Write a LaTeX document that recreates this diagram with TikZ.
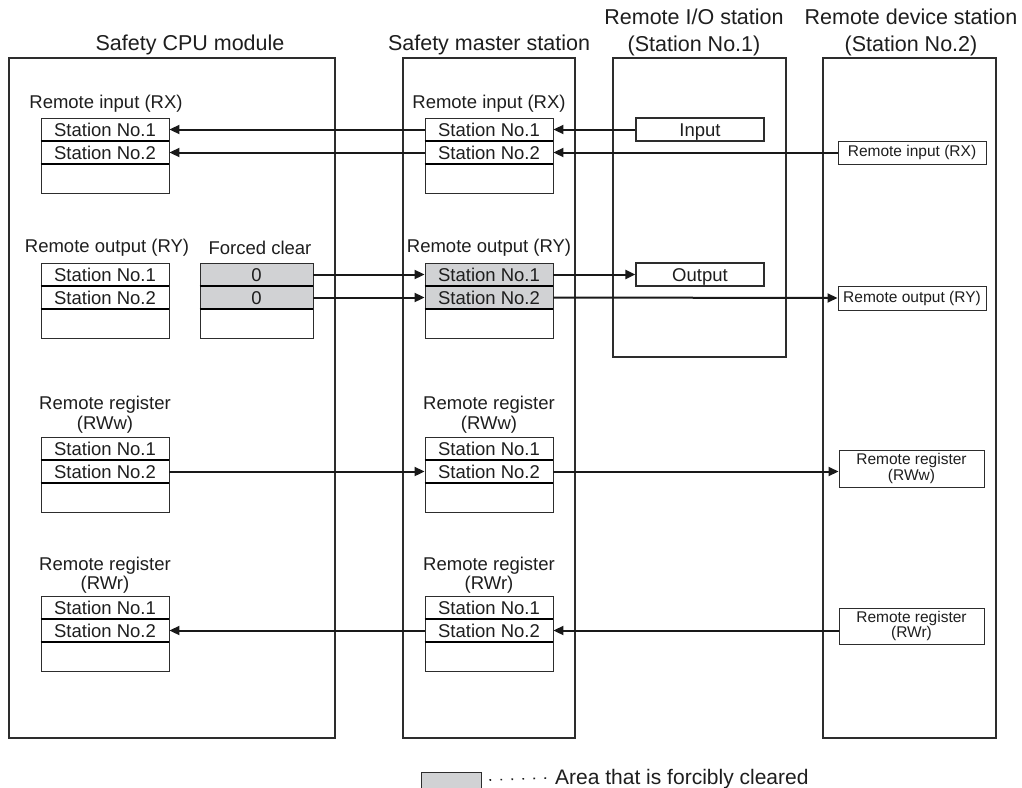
\documentclass[tikz,border=0pt]{standalone}
\usepackage{fontspec}
\setmainfont{Liberation Sans}
\usetikzlibrary{arrows.meta}
\definecolor{lc}{RGB}{45,45,45}
\definecolor{tc}{RGB}{30,30,30}
\definecolor{fc}{RGB}{209,210,212}
\tikzset{
  panel/.style={draw=lc,line width=1.3pt,inner sep=0pt},
  cell/.style={draw=lc,line width=0.9pt,minimum width=128pt,minimum height=23pt,inner sep=0pt,text height=13.3pt,text depth=0pt,text=tc,font=\fontsize{18.5}{20}\selectfont},
  sep/.style={draw=black,line width=2pt},
  lbl/.style={inner sep=0pt,text=tc,align=center,font=\fontsize{18.5}{19.5}\selectfont},
  head/.style={inner sep=0pt,text=tc,align=center,font=\fontsize{21.5}{27}\selectfont},
  dbox/.style={draw=lc,line width=1pt,inner sep=0pt,text=tc,align=center,font=\fontsize{15.5}{15.5}\selectfont},
  conn/.style={draw=black!90,line width=2pt,-{Triangle[length=10pt,width=9pt]}},
}
\newcommand{\regtable}[4]{%
  \node[cell,fill=#4] (#1a) at (#2,#3+11.5) {Station No.1};
  \node[cell,fill=#4] (#1b) at (#2,#3+34.5) {Station No.2};
  \node[cell,minimum height=29pt] (#1c) at (#2,#3+60.5) {};
  \draw[sep] (#1a.south west) -- (#1a.south east);
  \draw[sep] (#1b.south west) -- (#1b.south east);
}
\begin{document}
\begin{tikzpicture}[x=1pt,y=-1pt]
\useasboundingbox (0,0) rectangle (1022,787);
\clip (0,0) rectangle (1022,787);
\fill[white] (0,0) rectangle (1022,787);

% panels
\node[panel,line width=2pt,minimum width=326pt,minimum height=680pt] (cpu) at (172,398) {};
\node[panel,minimum width=172pt,minimum height=680pt] (mas) at (489,398) {};
\node[panel,minimum width=173pt,minimum height=299pt] (rio) at (699.5,207.5) {};
\node[panel,minimum width=173pt,minimum height=680pt] (rdev) at (909.5,398) {};

% headers
\node[head] (hcpu) at (190,45) {Safety CPU module};
\node[head] (hmas) at (489,45) {Safety master station};
\node[head] (hrio) at (694,32) {Remote I/O station\\(Station No.1)};
\node[head] (hdev) at (911,32) {Remote device station\\(Station No.2)};

% CPU tables
\node[lbl] (lcRX) at (106,104) {Remote input (RX)};
\regtable{cRX}{105}{118}{white}
\node[lbl] (lcRY) at (107,248) {Remote output (RY)};
\regtable{cRY}{105}{263}{white}
\node[lbl] (lfc) at (260,248) {Forced clear};
\node[cell,minimum width=113pt,fill=fc] (fca) at (256.5,274.5) {0};
\node[cell,minimum width=113pt,fill=fc] (fcb) at (256.5,297.5) {0};
\node[cell,minimum width=113pt,minimum height=29pt] (fcc) at (256.5,323.5) {};
\draw[sep] (fca.south west) -- (fca.south east);
\draw[sep] (fcb.south west) -- (fcb.south east);
\node[lbl] (lcWW) at (105,414.5) {Remote register\\(RWw)};
\regtable{cWW}{105}{437}{white}
\node[lbl] (lcWR) at (105,575) {Remote register\\(RWr)};
\regtable{cWR}{105}{596}{white}

% master tables
\node[lbl] (lmRX) at (489,104) {Remote input (RX)};
\regtable{mRX}{489}{118}{white}
\node[lbl] (lmRY) at (489,248) {Remote output (RY)};
\regtable{mRY}{489}{263}{fc}
\node[lbl] (lmWW) at (489,414.5) {Remote register\\(RWw)};
\regtable{mWW}{489}{437}{white}
\node[lbl] (lmWR) at (489,575) {Remote register\\(RWr)};
\regtable{mWR}{489}{596}{white}

% remote I/O station
\node[cell,line width=1.2pt] (inp) at (700,129.5) {Input};
\node[cell,line width=1.2pt] (outp) at (700,274.5) {Output};

% remote device station
\node[dbox,minimum width=148pt,minimum height=23pt] (dRX) at (912,152.5) {Remote input (RX)};
\node[dbox,minimum width=148pt,minimum height=24pt] (dRY) at (912,298) {Remote output (RY)};
\node[dbox,minimum width=145pt,minimum height=37pt] (dWW) at (911.5,468.5) {Remote register\\(RWw)};
\node[dbox,minimum width=145pt,minimum height=36pt] (dWR) at (911.5,626) {Remote register\\(RWr)};

% connectors
\draw[conn] (mRXa.west) -- (cRXa.east);
\draw[conn] (mRXb.west) -- (cRXb.east);
\draw[conn] (inp.west) -- (mRXa.east);
\draw[conn] (dRX.west) -- (mRXb.east);
\draw[conn] (fca.east) -- (mRYa.west);
\draw[conn] (fcb.east) -- (mRYb.west);
\draw[conn] (mRYa.east) -- (outp.west);
\draw[conn] (mRYb.east) -- (dRY.west);
\draw[conn] (cWWb.east) -- (mWWb.west);
\draw[conn] (mWWb.east) -- (dWW.west |- mWWb.east);
\draw[conn] (dWR.west |- mWRb.east) -- (mWRb.east);
\draw[conn] (mWRb.west) -- (cWRb.east);

% legend
\node[draw=lc,line width=1pt,fill=fc,minimum width=60pt,minimum height=30pt,inner sep=0pt] (lgbox) at (451,787) {};
\node[inner sep=0pt,anchor=west,text=tc,font=\fontsize{21}{24}\selectfont] (lgtext) at (555,779) {Area that is forcibly cleared};
\draw[tc,line width=1.6pt,dash pattern=on 1.6pt off 9.4pt] (lgbox.east |- lgtext.west) ++(8,1) -- ([xshift=-8pt,yshift=1pt]lgtext.west);
\end{tikzpicture}
\end{document}
